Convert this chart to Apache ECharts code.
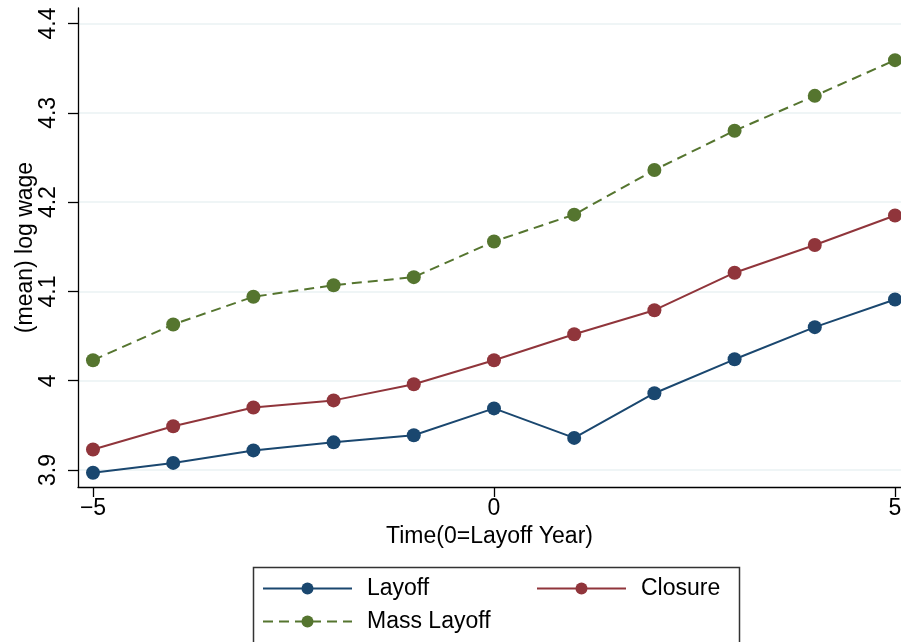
<!DOCTYPE html>
<html>
<head>
<meta charset="utf-8">
<script src="https://cdn.jsdelivr.net/npm/echarts@6/dist/echarts.min.js"></script>
<style>
  html, body { margin: 0; padding: 0; background: #fff; }
  #chart { width: 901px; height: 642px; }
</style>
</head>
<body>
<div id="chart"></div>
<script>
// 数据
const years = [-5, -4, -3, -2, -1, 0, 1, 2, 3, 4, 5];
const layoff = [3.897, 3.908, 3.922, 3.931, 3.939, 3.969, 3.936, 3.986, 4.024, 4.060, 4.091];
const closure = [3.923, 3.949, 3.970, 3.978, 3.996, 4.023, 4.052, 4.079, 4.121, 4.152, 4.185];
const massLayoff = [4.023, 4.063, 4.094, 4.107, 4.116, 4.156, 4.186, 4.236, 4.280, 4.319, 4.359];
const xTicks = [-5, 0, 5];
const yTicks = [3.9, 4.0, 4.1, 4.2, 4.3, 4.4];

const font = "'Liberation Sans', Arial, Helvetica, sans-serif";
const colors = { layoff: "#1a476f", closure: "#90353b", mass: "#55752f" };

const pairs = (ys) => years.map((x, i) => [x, ys[i]]);

const legendBase = {
  orient: "horizontal",
  padding: 0,
  itemWidth: 89,
  itemHeight: 15,
  textStyle: {
    color: "#000",
    fontSize: 23,
    fontFamily: font,
    padding: [0, 0, 0, 10],
  },
};

const options = {
  backgroundColor: "#fff",
  animation: false,
  grid: {
    left: 78,
    right: 0,
    top: 8,
    bottom: 155,
    outerBoundsMode: "none", // 不自动收缩网格
  },
  xAxis: {
    type: "value",
    min: -5.187,
    max: 5.075,
    name: "Time(0=Layoff Year)",
    nameLocation: "middle",
    nameGap: 38,
    nameMoveOverlap: false,
    nameTextStyle: { color: "#000", fontSize: 23, fontFamily: font },
    axisLine: { onZero: false, lineStyle: { color: "#000", width: 1.3 } },
    axisTick: { customValues: xTicks, length: 10, lineStyle: { color: "#000", width: 1.3 } },
    axisLabel: {
      customValues: xTicks,
      color: "#000",
      fontSize: 23,
      fontFamily: font,
      margin: 10,
      formatter: (v) => String(v).replace("-", "\u2212"),
    },
    splitLine: { show: false },
  },
  yAxis: {
    type: "value",
    min: 3.881,
    max: 4.4174,
    name: "(mean) log wage",
    nameLocation: "middle",
    nameGap: 41,
    nameMoveOverlap: false,
    nameTextStyle: { color: "#000", fontSize: 23, fontFamily: font },
    axisLine: { show: true, onZero: false, lineStyle: { color: "#000", width: 1.3 } },
    axisTick: { customValues: yTicks, length: 10, lineStyle: { color: "#000", width: 1.3 } },
    axisLabel: {
      customValues: yTicks,
      rotate: 90,
      color: "#000",
      fontSize: 23,
      fontFamily: font,
      margin: 18,
      formatter: (v) => (Math.abs(v - 4) < 1e-9 ? "4" : v.toFixed(1)),
    },
    splitLine: { show: true, lineStyle: { color: "#eaf2f3", width: 1.5 } },
  },
  legend: [
    Object.assign({}, legendBase, { data: ["Layoff"], left: 262, top: 577 }),
    Object.assign({}, legendBase, { data: ["Closure"], left: 536, top: 577 }),
    Object.assign({}, legendBase, { data: ["Mass Layoff"], left: 262, top: 610 }),
  ],
  graphic: [
    {
      type: "rect",
      left: 251,
      top: 565,
      shape: { width: 486, height: 100 },
      style: { fill: "none", stroke: "#333", lineWidth: 1.5 },
      silent: true,
    },
  ],
  series: [
    {
      name: "Layoff",
      type: "line",
      data: pairs(layoff),
      symbol: "circle",
      symbolSize: 14,
      clip: false,
      lineStyle: { color: colors.layoff, width: 2 },
      itemStyle: { color: colors.layoff },
    },
    {
      name: "Closure",
      type: "line",
      data: pairs(closure),
      symbol: "circle",
      symbolSize: 14,
      clip: false,
      lineStyle: { color: colors.closure, width: 2 },
      itemStyle: { color: colors.closure },
    },
    {
      name: "Mass Layoff",
      type: "line",
      data: pairs(massLayoff),
      symbol: "circle",
      symbolSize: 14,
      clip: false,
      lineStyle: { color: colors.mass, width: 2, type: [10, 6] },
      itemStyle: { color: colors.mass },
    },
  ],
};

const chart = echarts.init(document.getElementById("chart"));
chart.setOption(options);
window.addEventListener("resize", () => {
  chart.resize();
});
</script>
</body>
</html>
